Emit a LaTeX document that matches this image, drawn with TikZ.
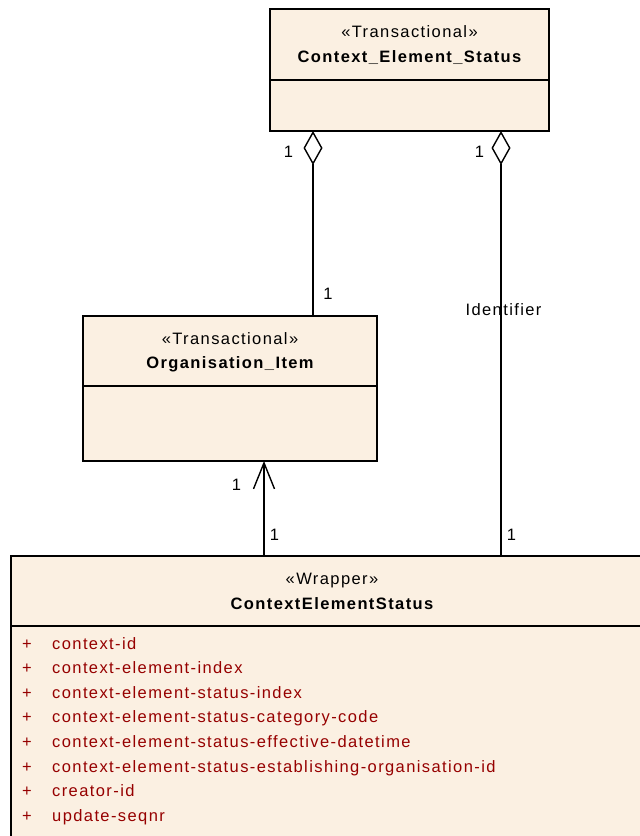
\documentclass[tikz,border=0pt]{standalone}
\usepackage{fontspec}
\setmainfont{Liberation Sans}[LetterSpace=8.5]
\newfontfamily\namefont{Liberation Sans}[LetterSpace=8.5]
\usetikzlibrary{arrows.meta}

\definecolor{classfill}{RGB}{251,240,226}
\definecolor{attrred}{RGB}{150,0,0}

\tikzset{
  classbox/.style={draw, line width=1.4pt, fill=classfill, inner sep=0pt, outer sep=0pt, anchor=north west},
  divider/.style={line width=1.4pt},
  stereo/.style={anchor=base},
  cname/.style={anchor=base, font=\namefont\fontsize{16.5}{19}\selectfont\bfseries},
  attr/.style={anchor=base west, text=attrred},
  mult/.style={anchor=base},
  assoc/.style={line width=1.4pt},
  aggregation/.style={assoc, {Diamond[open, fill=white, length=34pt, width=19pt]}-},
  navigable/.style={assoc, -{Straight Barb[length=26pt, width=21pt]}}
}

\begin{document}
\begin{tikzpicture}[x=1pt, y=-1pt, every node/.style={font=\fontsize{16.5}{19}\selectfont, inner sep=0pt}]
            \useasboundingbox (0,0) rectangle (640,836);
            \clip (0,0) rectangle (640,836);

            % Classes
            \node[classbox, minimum width=279pt, minimum height=122pt] (status) at (270,9) {};
            \node[classbox, minimum width=294pt, minimum height=145pt] (org) at (83,316) {};
            \node[classbox, minimum width=641pt, minimum height=300pt] (ces) at (11,556) {};

            % Compartments
            \draw[divider] (270,80) -- (549,80);
            \draw[divider] (83,386) -- (377,386);
            \draw[divider] (11,626) -- (652,626);

            % Class names
            \node[stereo] (status-st) at (409.5,37) {«Transactional»};
            \node[cname] (status-nm) at (409.5,62) {Context\_Element\_Status};
            \node[stereo] (org-st) at (230,344) {«Transactional»};
            \node[cname] (org-nm) at (230,368) {Organisation\_Item};
            \node[stereo] (ces-st) at (332,584) {«Wrapper»};
            \node[cname] (ces-nm) at (332,609) {ContextElementStatus};

            % Attributes
            \node[attr] (a1) at (22,649) {\makebox[30pt][l]{+}context-id};
            \node[attr] (a2) at (22,673.6) {\makebox[30pt][l]{+}context-element-index};
            \node[attr] (a3) at (22,698.2) {\makebox[30pt][l]{+}context-element-status-index};
            \node[attr] (a4) at (22,722.8) {\makebox[30pt][l]{+}context-element-status-category-code};
            \node[attr] (a5) at (22,747.4) {\makebox[30pt][l]{+}context-element-status-effective-datetime};
            \node[attr] (a6) at (22,772) {\makebox[30pt][l]{+}context-element-status-establishing-organisation-id};
            \node[attr] (a7) at (22,796.6) {\makebox[30pt][l]{+}creator-id};
            \node[attr] (a8) at (22,821.2) {\makebox[30pt][l]{+}update-seqnr};

            % Ends of the connectors
            \coordinate (status-l) at (313,131);
            \coordinate (status-r) at (501,131);
            \coordinate (org-t) at (313,316);
            \coordinate (org-b) at (264,461);
            \coordinate (ces-l) at (264,556);
            \coordinate (ces-r) at (501,556);

            % Connectors
            \draw[aggregation] (status-l) -- (org-t);
            \draw[aggregation] (status-r) -- (ces-r);
            \draw[navigable] (ces-l) -- (org-b);

            % Multiplicities and roles
            \node[mult] (m1) at (288.5,157) {1};
            \node[mult] (m2) at (479.5,157) {1};
            \node[mult] (m3) at (328,299) {1};
            \node[mult] (role) at (503.5,315) {Identifier};
            \node[mult] (m4) at (236.5,490) {1};
            \node[mult] (m5) at (274.5,540) {1};
            \node[mult] (m6) at (511.5,540) {1};
        \end{tikzpicture}
\end{document}
